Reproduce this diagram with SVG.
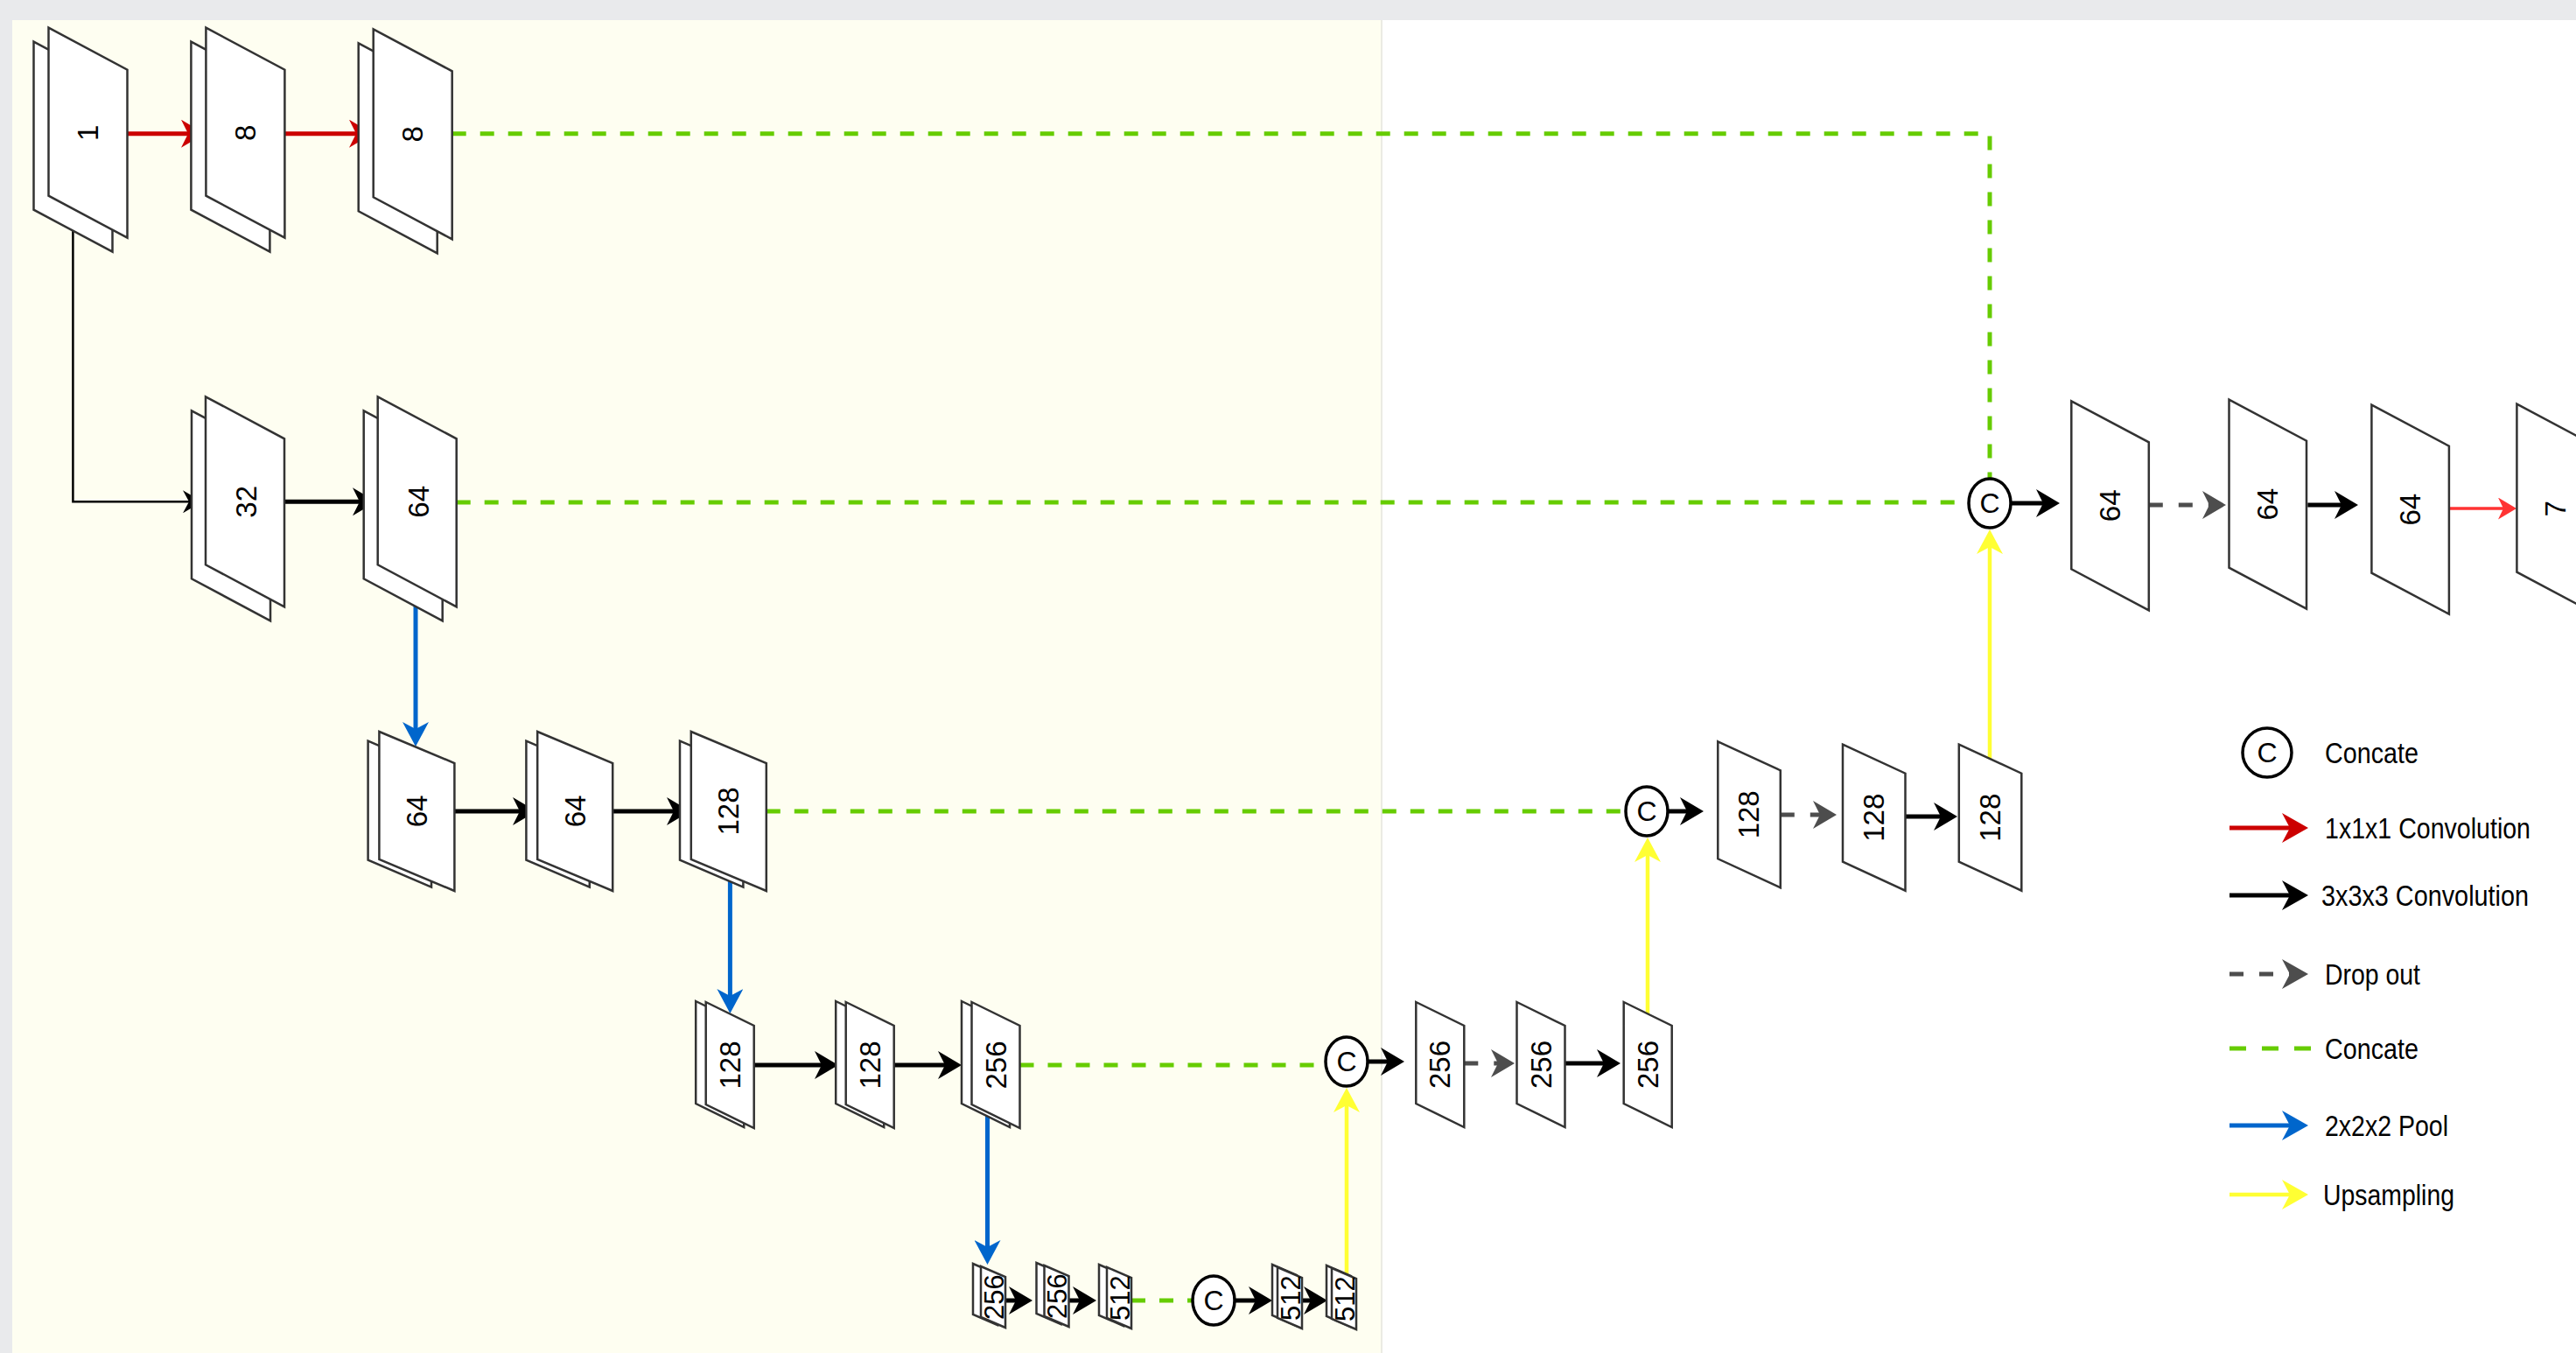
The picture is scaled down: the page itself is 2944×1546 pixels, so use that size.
<svg xmlns="http://www.w3.org/2000/svg" width="2944" height="1546" viewBox="0 0 2944 1546">
<style>
.sh{fill:#fff;stroke:#333;stroke-width:2.5;stroke-linejoin:miter}
.lbl{font-family:"Liberation Sans",Arial,Helvetica,sans-serif;font-size:33px;fill:#000;text-anchor:middle;dominant-baseline:central}
.sm{font-size:31px}
.cl{font-size:32px}
.leg{font-family:"Liberation Sans",Arial,Helvetica,sans-serif;font-size:33px;fill:#000;dominant-baseline:central}
.cc{fill:#fff;stroke:#000;stroke-width:3.5}
.k{fill:none;stroke:#000;stroke-width:5}
.kt{fill:none;stroke:#000;stroke-width:2.5}
.r{fill:none;stroke:#cc0000;stroke-width:5}
.rl{fill:none;stroke:#ff3333;stroke-width:3.5}
.b{fill:none;stroke:#0066cc;stroke-width:5}
.y{fill:none;stroke:#ffff33;stroke-width:4.5}
.g{fill:none;stroke:#66cc00;stroke-width:5;stroke-dasharray:16 16}
.d{fill:none;stroke:#4d4d4d;stroke-width:5;stroke-dasharray:16 18}
</style>
<defs>
<marker id="mk" markerUnits="userSpaceOnUse" viewBox="0 0 27 32" markerWidth="27" markerHeight="32" refX="17" refY="16" orient="auto"><path d="M0,0 L27,16 L0,32 L8,16 Z" fill="#000"/></marker>
<marker id="mkt" markerUnits="userSpaceOnUse" viewBox="0 0 22 26" markerWidth="22" markerHeight="26" refX="13" refY="13" orient="auto"><path d="M0,0 L22,13 L0,26 L7,13 Z" fill="#000"/></marker>
<marker id="mr" markerUnits="userSpaceOnUse" viewBox="0 0 27 32" markerWidth="27" markerHeight="32" refX="17" refY="16" orient="auto"><path d="M0,0 L27,16 L0,32 L8,16 Z" fill="#cc0000"/></marker>
<marker id="mrl" markerUnits="userSpaceOnUse" viewBox="0 0 21 25" markerWidth="21" markerHeight="25" refX="13" refY="12.5" orient="auto"><path d="M0,0 L21,12.5 L0,25 L6,12.5 Z" fill="#ff3333"/></marker>
<marker id="mb" markerUnits="userSpaceOnUse" viewBox="0 0 28 30" markerWidth="28" markerHeight="30" refX="18" refY="15" orient="auto"><path d="M0,0 L28,15 L0,30 L8,15 Z" fill="#0066cc"/></marker>
<marker id="my" markerUnits="userSpaceOnUse" viewBox="0 0 28 30" markerWidth="28" markerHeight="30" refX="18" refY="15" orient="auto"><path d="M0,0 L28,15 L0,30 L8,15 Z" fill="#ffff33"/></marker>
<marker id="md" markerUnits="userSpaceOnUse" viewBox="0 0 27 32" markerWidth="27" markerHeight="32" refX="17" refY="16" orient="auto"><path d="M0,0 L27,16 L0,32 L8,16 Z" fill="#4d4d4d"/></marker>
<marker id="mkL" markerUnits="userSpaceOnUse" viewBox="0 0 30 34" markerWidth="30" markerHeight="34" refX="20" refY="17" orient="auto"><path d="M0,0 L30,17 L0,34 L9,17 Z" fill="#000"/></marker>
<marker id="mrL" markerUnits="userSpaceOnUse" viewBox="0 0 30 34" markerWidth="30" markerHeight="34" refX="20" refY="17" orient="auto"><path d="M0,0 L30,17 L0,34 L9,17 Z" fill="#cc0000"/></marker>
<marker id="mdL" markerUnits="userSpaceOnUse" viewBox="0 0 30 34" markerWidth="30" markerHeight="34" refX="20" refY="17" orient="auto"><path d="M0,0 L30,17 L0,34 L9,17 Z" fill="#4d4d4d"/></marker>
<marker id="mbL" markerUnits="userSpaceOnUse" viewBox="0 0 30 34" markerWidth="30" markerHeight="34" refX="20" refY="17" orient="auto"><path d="M0,0 L30,17 L0,34 L9,17 Z" fill="#0066cc"/></marker>
<marker id="myL" markerUnits="userSpaceOnUse" viewBox="0 0 30 34" markerWidth="30" markerHeight="34" refX="20" refY="17" orient="auto"><path d="M0,0 L30,17 L0,34 L9,17 Z" fill="#ffff33"/></marker>
</defs>

<rect x="0" y="0" width="2944" height="1546" fill="#e9eaec"/>
<rect x="14" y="23" width="1565" height="1523" fill="#fefef1"/>
<rect x="1579" y="23" width="1365" height="1523" fill="#ffffff"/>
<line x1="1579" y1="23" x2="1579" y2="1546" stroke="#ebebe3" stroke-width="2"/>

<g id="connectors">
<line class="r" x1="145.5" y1="152.7" x2="224" y2="152.7" marker-end="url(#mr)"/>
<line class="r" x1="325.4" y1="152.7" x2="416" y2="152.7" marker-end="url(#mr)"/>
<path class="g" d="M516.7,152.7 H2274 V547"/>
<path class="kt" d="M83.4,238 V573.3 H222" marker-end="url(#mkt)"/>
<line class="k" x1="325" y1="573.3" x2="420" y2="573.3" marker-end="url(#mk)"/>
<path class="g" d="M521.7,574 H2250"/>
<path class="b" d="M475,668 V843" marker-end="url(#mb)"/>
<line class="k" x1="519.4" y1="927" x2="603" y2="927" marker-end="url(#mk)"/>
<line class="k" x1="700.2" y1="927" x2="779" y2="927" marker-end="url(#mk)"/>
<path class="g" d="M875.8,927 H1857"/>
<path class="b" d="M834.4,1000 V1148" marker-end="url(#mb)"/>
<line class="k" x1="861.7" y1="1217" x2="948" y2="1217" marker-end="url(#mk)"/>
<line class="k" x1="1021.7" y1="1217" x2="1089" y2="1217" marker-end="url(#mk)"/>
<path class="g" d="M1165.5,1217 H1514"/>
<path class="b" d="M1128.5,1270 V1435" marker-end="url(#mb)"/>
<line class="k" x1="1149" y1="1486" x2="1170" y2="1486" marker-end="url(#mk)"/>
<line class="k" x1="1222" y1="1486" x2="1243" y2="1486" marker-end="url(#mk)"/>
<path class="g" d="M1293,1486 H1363"/>
<line class="k" x1="1411" y1="1486" x2="1444" y2="1486" marker-end="url(#mk)"/>
<line class="k" x1="1488" y1="1486" x2="1507" y2="1486" marker-end="url(#mk)"/>
<path class="y" d="M1539,1458 V1253" marker-end="url(#my)"/>
<line class="k" x1="1563" y1="1213" x2="1595" y2="1213" marker-end="url(#mk)"/>
<line class="d" x1="1673.3" y1="1215" x2="1721" y2="1215" marker-end="url(#md)"/>
<line class="k" x1="1787.3" y1="1215" x2="1842" y2="1215" marker-end="url(#mk)"/>
<path class="y" d="M1883,1158 V967" marker-end="url(#my)"/>
<line class="k" x1="1906" y1="927" x2="1937" y2="927" marker-end="url(#mk)"/>
<line class="d" x1="2034.8" y1="931" x2="2089" y2="931" marker-end="url(#md)"/>
<line class="k" x1="2177.6" y1="933" x2="2227" y2="933" marker-end="url(#mk)"/>
<path class="y" d="M2274,867 V615" marker-end="url(#my)"/>
<line class="k" x1="2298" y1="575" x2="2344" y2="575" marker-end="url(#mk)"/>
<line class="d" x1="2455.8" y1="577" x2="2534" y2="577" marker-end="url(#md)"/>
<line class="k" x1="2637.3" y1="577" x2="2685" y2="577" marker-end="url(#mk)"/>
<line class="rl" x1="2799" y1="581" x2="2868" y2="581" marker-end="url(#mrl)"/>
</g>

<g id="n1"><polygon class="sh" points="38.5,47.7 128.5,95.7 128.5,287.7 38.5,239.7"/><polygon class="sh" points="55.5,31.7 145.5,79.7 145.5,271.7 55.5,223.7"/><text class="lbl" x="100.5" y="151.7" transform="rotate(-90 100.5 151.7)">1</text></g>
<g id="n8a"><polygon class="sh" points="218.4,47.7 308.4,95.7 308.4,287.7 218.4,239.7"/><polygon class="sh" points="235.4,31.7 325.4,79.7 325.4,271.7 235.4,223.7"/><text class="lbl" x="280.4" y="151.7" transform="rotate(-90 280.4 151.7)">8</text></g>
<g id="n8b"><polygon class="sh" points="409.7,49.3 499.7,97.3 499.7,289.3 409.7,241.3"/><polygon class="sh" points="426.7,33.3 516.7,81.3 516.7,273.3 426.7,225.3"/><text class="lbl" x="471.7" y="153.3" transform="rotate(-90 471.7 153.3)">8</text></g>

<g id="n32"><polygon class="sh" points="219,469.3 309,517.3 309,709.3 219,661.3"/><polygon class="sh" points="235,453.3 325,501.3 325,693.3 235,645.3"/><text class="lbl" x="282" y="573.3" transform="rotate(-90 282 573.3)">32</text></g>
<g id="n64a"><polygon class="sh" points="415.7,469.3 505.7,517.3 505.7,709.3 415.7,661.3"/><polygon class="sh" points="431.7,453.3 521.7,501.3 521.7,693.3 431.7,645.3"/><text class="lbl" x="478.7" y="573.3" transform="rotate(-90 478.7 573.3)">64</text></g>

<g id="n64b"><polygon class="sh" points="420.6,846.7 493,877.7 493,1013.7 420.6,982.7"/><polygon class="sh" points="433.4,836 519.4,872 519.4,1018 433.4,982"/><text class="lbl" x="476.4" y="927" transform="rotate(-90 476.4 927)">64</text></g>
<g id="n64c"><polygon class="sh" points="601.4,846.7 673.8,877.7 673.8,1013.7 601.4,982.7"/><polygon class="sh" points="614.2,836 700.2,872 700.2,1018 614.2,982"/><text class="lbl" x="657.2" y="927" transform="rotate(-90 657.2 927)">64</text></g>
<g id="n128a"><polygon class="sh" points="777,846.7 849.4,877.7 849.4,1013.7 777,982.7"/><polygon class="sh" points="789.8,836 875.8,872 875.8,1018 789.8,982"/><text class="lbl" x="832.8" y="927" transform="rotate(-90 832.8 927)">128</text></g>

<g id="n128b"><polygon class="sh" points="795.2,1144 850.2,1171 850.2,1288 795.2,1261"/><polygon class="sh" points="806.7,1145 861.7,1172 861.7,1289 806.7,1262"/><text class="lbl" x="834.2" y="1217" transform="rotate(-90 834.2 1217)">128</text></g>
<g id="n128c"><polygon class="sh" points="955.2,1144 1010.2,1171 1010.2,1288 955.2,1261"/><polygon class="sh" points="966.7,1145 1021.7,1172 1021.7,1289 966.7,1262"/><text class="lbl" x="994.2" y="1217" transform="rotate(-90 994.2 1217)">128</text></g>
<g id="n256a"><polygon class="sh" points="1099,1144 1154,1171 1154,1288 1099,1261"/><polygon class="sh" points="1110.5,1145 1165.5,1172 1165.5,1289 1110.5,1262"/><text class="lbl" x="1138" y="1217" transform="rotate(-90 1138 1217)">256</text></g>

<g id="n256e"><polygon class="sh" points="1112,1444 1140,1456 1140,1514 1112,1502"/><polygon class="sh" points="1121,1447 1149,1459 1149,1517 1121,1505"/><text class="lbl sm" x="1136" y="1482" transform="rotate(-90 1136 1482)">256</text></g>
<g id="n256f"><polygon class="sh" points="1184.5,1443 1212.5,1455 1212.5,1513 1184.5,1501"/><polygon class="sh" points="1193.5,1446 1221.5,1458 1221.5,1516 1193.5,1504"/><text class="lbl sm" x="1208.5" y="1481" transform="rotate(-90 1208.5 1481)">256</text></g>
<g id="n512a"><polygon class="sh" points="1256,1445 1284,1457 1284,1515 1256,1503"/><polygon class="sh" points="1265,1448 1293,1460 1293,1518 1265,1506"/><text class="lbl sm" x="1280" y="1483" transform="rotate(-90 1280 1483)">512</text></g>
<g id="cc4"><ellipse class="cc" cx="1387" cy="1486" rx="24" ry="28"/><text class="lbl cl" x="1387" y="1486">C</text></g>
<g id="n512b"><polygon class="sh" points="1454,1445 1482,1457 1482,1515 1454,1503"/><polygon class="sh" points="1460,1448 1488,1460 1488,1518 1460,1506"/><text class="lbl sm" x="1475" y="1483" transform="rotate(-90 1475 1483)">512</text></g>
<g id="n512c"><polygon class="sh" points="1516,1446 1544,1458 1544,1516 1516,1504"/><polygon class="sh" points="1522,1449 1550,1461 1550,1519 1522,1507"/><text class="lbl sm" x="1537" y="1484" transform="rotate(-90 1537 1484)">512</text></g>

<g id="cc3"><ellipse class="cc" cx="1539" cy="1213" rx="24" ry="28"/><text class="lbl cl" x="1539" y="1213">C</text></g>
<g id="n256b"><polygon class="sh" points="1618.3,1145 1673.3,1172 1673.3,1288 1618.3,1261"/><text class="lbl" x="1645.8" y="1216.5" transform="rotate(-90 1645.8 1216.5)">256</text></g>
<g id="n256c"><polygon class="sh" points="1733.5,1145 1788.5,1172 1788.5,1288 1733.5,1261"/><text class="lbl" x="1761" y="1216.5" transform="rotate(-90 1761 1216.5)">256</text></g>
<g id="n256d"><polygon class="sh" points="1855.7,1145 1910.7,1172 1910.7,1288 1855.7,1261"/><text class="lbl" x="1883.2" y="1216.5" transform="rotate(-90 1883.2 1216.5)">256</text></g>

<g id="cc2"><ellipse class="cc" cx="1882" cy="927" rx="24" ry="28"/><text class="lbl cl" x="1882" y="927">C</text></g>
<g id="n128d"><polygon class="sh" points="1963.3,847.3 2034.8,880.3 2034.8,1014.3 1963.3,981.3"/><text class="lbl" x="1999" y="930.8" transform="rotate(-90 1999 930.8)">128</text></g>
<g id="n128e"><polygon class="sh" points="2106,850.7 2177.5,883.7 2177.5,1017.7 2106,984.7"/><text class="lbl" x="2141.8" y="934.2" transform="rotate(-90 2141.8 934.2)">128</text></g>
<g id="n128f"><polygon class="sh" points="2238.8,850.7 2310.3,883.7 2310.3,1017.7 2238.8,984.7"/><text class="lbl" x="2274.5" y="934.2" transform="rotate(-90 2274.5 934.2)">128</text></g>

<g id="cc1"><ellipse class="cc" cx="2274" cy="575" rx="24" ry="28"/><text class="lbl cl" x="2274" y="575">C</text></g>
<g id="n64e"><polygon class="sh" points="2367.3,458.3 2455.8,505.3 2455.8,697.3 2367.3,650.3"/><text class="lbl" x="2411.5" y="577.8" transform="rotate(-90 2411.5 577.8)">64</text></g>
<g id="n64f"><polygon class="sh" points="2547.5,456.7 2636,503.7 2636,695.7 2547.5,648.7"/><text class="lbl" x="2591.8" y="576.2" transform="rotate(-90 2591.8 576.2)">64</text></g>
<g id="n64g"><polygon class="sh" points="2710.4,462.7 2798.9,509.7 2798.9,701.7 2710.4,654.7"/><text class="lbl" x="2754.6" y="582.2" transform="rotate(-90 2754.6 582.2)">64</text></g>
<g id="n7"><polygon class="sh" points="2876.4,461.7 2964.9,508.7 2964.9,700.7 2876.4,653.7"/><text class="lbl" x="2920.6" y="581.2" transform="rotate(-90 2920.6 581.2)">7</text></g>

<g id="legend">
<g id="lg-c"><circle class="cc" cx="2591" cy="860" r="28"/><text class="lbl cl" x="2591" y="860">C</text><text class="leg" x="2657" y="860" textLength="107" lengthAdjust="spacingAndGlyphs">Concate</text></g>
<g id="lg-r"><line class="r" x1="2548" y1="946" x2="2628" y2="946" marker-end="url(#mrL)"/><text class="leg" x="2657" y="946" textLength="235" lengthAdjust="spacingAndGlyphs">1x1x1 Convolution</text></g>
<g id="lg-k"><line class="k" x1="2548" y1="1023" x2="2628" y2="1023" marker-end="url(#mkL)"/><text class="leg" x="2653" y="1023" textLength="237" lengthAdjust="spacingAndGlyphs">3x3x3 Convolution</text></g>
<g id="lg-d"><line class="d" x1="2548" y1="1113" x2="2628" y2="1113" marker-end="url(#mdL)"/><text class="leg" x="2657" y="1113" textLength="109" lengthAdjust="spacingAndGlyphs">Drop out</text></g>
<g id="lg-g"><line class="g" x1="2548" y1="1198" x2="2642" y2="1198" style="stroke-dasharray:19 18"/><text class="leg" x="2657" y="1198" textLength="107" lengthAdjust="spacingAndGlyphs">Concate</text></g>
<g id="lg-b"><line class="b" x1="2548" y1="1286" x2="2628" y2="1286" marker-end="url(#mbL)"/><text class="leg" x="2657" y="1286" textLength="141" lengthAdjust="spacingAndGlyphs">2x2x2 Pool</text></g>
<g id="lg-y"><line class="y" x1="2548" y1="1365" x2="2628" y2="1365" marker-end="url(#myL)"/><text class="leg" x="2655" y="1365" textLength="150" lengthAdjust="spacingAndGlyphs">Upsampling</text></g>
</g>
</svg>
